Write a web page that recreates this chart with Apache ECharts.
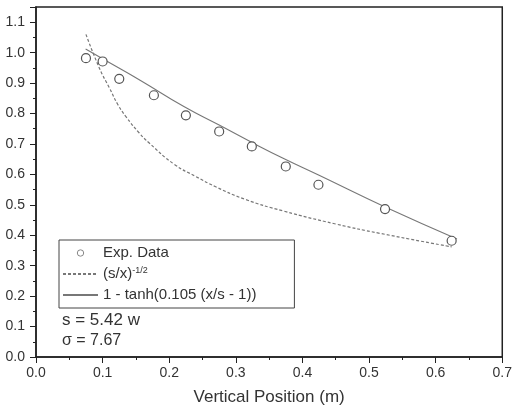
<!DOCTYPE html>
<html lang="en">
<head>
    <meta charset="UTF-8">
    <title>Vertical Position</title>
    <script src="https://cdn.jsdelivr.net/npm/echarts@6/dist/echarts.min.js"></script>
    <style>
        html, body { margin: 0; padding: 0; background: #fff; }
        #main { width: 515px; height: 413px; }
    </style>
</head>
<body>
<div id="main"></div>
<script type="text/javascript">
    // measured points (circles)
    var expX = [0.075, 0.100, 0.125, 0.177, 0.225, 0.275, 0.324, 0.375, 0.424, 0.524, 0.624];
    var expY = [0.982, 0.971, 0.914, 0.860, 0.794, 0.741, 0.692, 0.626, 0.566, 0.486, 0.382];
    // dashed curve (s/x)^-1/2
    var powX = [0.075, 0.0954, 0.110, 0.123, 0.135, 0.155, 0.170, 0.207, 0.240, 0.269, 0.314, 0.371, 0.450, 0.517, 0.624];
    var powY = [1.060, 0.948, 0.885, 0.829, 0.790, 0.736, 0.703, 0.634, 0.593, 0.560, 0.518, 0.480, 0.437, 0.406, 0.362];
    // solid curve 1 - tanh(...)
    var tanhX = [0.0745, 0.100, 0.1575, 0.222, 0.275, 0.325, 0.371, 0.425, 0.525, 0.632];
    var tanhY = [1.012, 0.980, 0.908, 0.823, 0.762, 0.704, 0.653, 0.597, 0.492, 0.388];

    var xTicks = [0, 0.7, 0.1];
    var yTicks = [0, 1.15, 0.1];

    var EXP = 'Exp. Data';
    var POW = '(s/x)^-1/2';
    var TANH = '1 - tanh(0.105 (x/s - 1))';

    function pairs(xs, ys) {
        return xs.map(function (x, i) { return [x, ys[i]]; });
    }

    var font = '"Liberation Sans", Arial, sans-serif';
    var ink = '#222';

    var myChart = echarts.init(document.getElementById('main'));
    var option = {
        backgroundColor: '#fff',
        animation: false,
        grid: {
            left: 36, right: 9, top: 7, bottom: 56,
            show: true, borderColor: ink, borderWidth: 1.5,
            backgroundColor: '#fff'
        },
        xAxis: {
            type: 'value',
            min: xTicks[0], max: xTicks[1], interval: xTicks[2],
            name: 'Vertical Position (m)',
            nameLocation: 'middle',
            nameGap: 32,
            nameTextStyle: { fontFamily: font, fontSize: 17, color: '#333' },
            axisLine: { lineStyle: { color: ink, width: 1.5 } },
            axisTick: { length: 6, lineStyle: { color: ink } },
            minorTick: { show: true, splitNumber: 2, length: 3, lineStyle: { color: ink } },
            splitLine: { show: false },
            axisLabel: {
                margin: 9, fontFamily: font, fontSize: 14, color: '#333',
                formatter: function (v) { return v.toFixed(1); }
            }
        },
        yAxis: {
            type: 'value',
            min: yTicks[0], max: yTicks[1], interval: yTicks[2],
            axisLine: { lineStyle: { color: ink, width: 1.5 } },
            axisTick: { length: 6, lineStyle: { color: ink } },
            minorTick: { show: true, splitNumber: 2, length: 3, lineStyle: { color: ink } },
            splitLine: { show: false },
            axisLabel: {
                margin: 11, fontFamily: font, fontSize: 14, color: '#333',
                formatter: function (v) { return v > 1.12 ? '' : v.toFixed(1); }
            }
        },
        legend: {
            orient: 'vertical',
            left: 59, top: 240,
            data: [
                { name: EXP, itemStyle: { color: '#fff', borderColor: '#888', borderWidth: 1 } },
                { name: POW, itemStyle: { opacity: 0 } },
                { name: TANH, itemStyle: { opacity: 0 } }
            ],
            itemWidth: 35, itemHeight: 8, itemGap: 5,
            padding: [5, 38, 5, 3],
            borderColor: '#444', borderWidth: 1,
            formatter: function (name) {
                return name === POW ? '{b|(s/x)}{sup|-1/2}' : name;
            },
            textStyle: {
                fontFamily: font, fontSize: 15, color: '#333', lineHeight: 16,
                rich: {
                    b: { fontFamily: font, fontSize: 15, color: '#333' },
                    sup: { fontFamily: font, fontSize: 9, color: '#333', verticalAlign: 'top' }
                }
            }
        },
        graphic: [
            { type: 'text', left: 62, top: 312, style: { text: 's = 5.42 w', font: '17px ' + font, fill: '#333' } },
            { type: 'text', left: 62, top: 333, style: { text: 'σ = 7.67', font: '16px ' + font, fill: '#333' } }
        ],
        series: [
            {
                name: POW,
                type: 'line',
                data: pairs(powX, powY),
                smooth: 0.5,
                symbol: 'none',
                lineStyle: { color: '#777', width: 1.2, type: [3, 2] },
                itemStyle: { color: '#777' },
                z: 2
            },
            {
                name: TANH,
                type: 'line',
                data: pairs(tanhX, tanhY),
                smooth: 0.5,
                symbol: 'none',
                lineStyle: { color: '#777', width: 1.1 },
                itemStyle: { color: '#777' },
                z: 2
            },
            {
                name: EXP,
                type: 'line',
                data: pairs(expX, expY),
                symbol: 'circle',
                symbolSize: 9,
                showSymbol: true,
                lineStyle: { width: 0, opacity: 0 },
                itemStyle: { color: '#fff', borderColor: '#555', borderWidth: 1.2 },
                z: 3
            }
        ]
    };
    myChart.setOption(option);
</script>
</body>
</html>
